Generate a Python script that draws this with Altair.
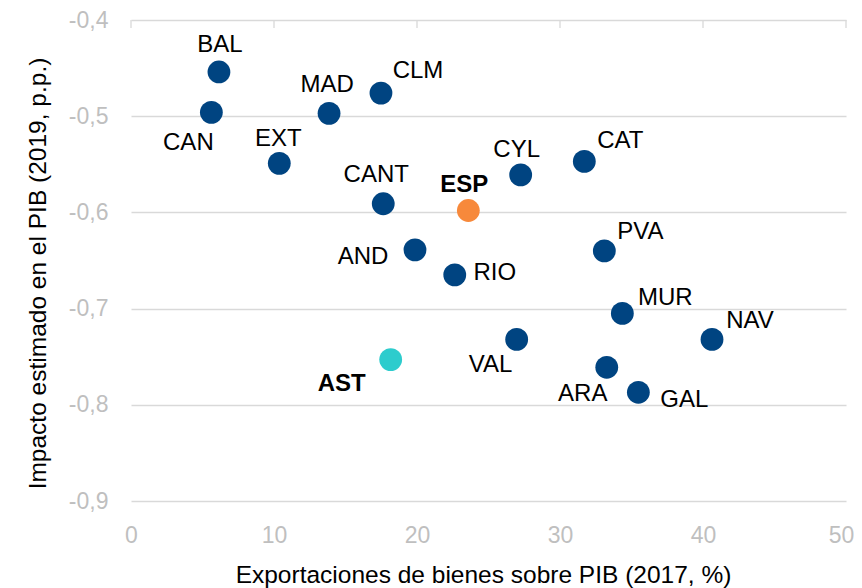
import altair as alt
import pandas as pd

# ---- data ----
regions = ["BAL", "CAN", "MAD", "CLM", "EXT", "CANT", "ESP", "CYL", "CAT",
           "AND", "RIO", "PVA", "MUR", "NAV", "VAL", "AST", "ARA", "GAL"]
exports = [6.15, 5.62, 13.85, 17.48, 10.37, 17.64, 23.59, 27.25, 31.70,
           19.86, 22.64, 33.10, 34.36, 40.63, 26.97, 18.16, 33.27, 35.48]
impact = [-0.454, -0.496, -0.497, -0.476, -0.549, -0.591, -0.598, -0.561, -0.547,
          -0.639, -0.665, -0.640, -0.705, -0.732, -0.732, -0.753, -0.761, -0.787]
groups = ["CCAA", "CCAA", "CCAA", "CCAA", "CCAA", "CCAA", "España", "CCAA", "CCAA",
          "CCAA", "CCAA", "CCAA", "CCAA", "CCAA", "CCAA", "Asturias", "CCAA", "CCAA"]
x_ticks = [0, 10, 20, 30, 40, 50]
y_ticks = [-0.4, -0.5, -0.6, -0.7, -0.8, -0.9]

df = pd.DataFrame({"region": regions, "exports": exports, "impact": impact, "group": groups})
ticks_df = pd.DataFrame({"t": x_ticks})

# label placement (pixel offsets from each point), styling only
label_offsets = {
    "BAL": (1, -27), "CAN": (-23, 31), "MAD": (-2, -28), "CLM": (37, -22),
    "EXT": (-1, -24), "CANT": (-7, -29), "ESP": (-4, -25), "CYL": (-4, -25),
    "CAT": (36, -20), "AND": (-52, 7), "RIO": (40, -2), "PVA": (36, -19),
    "MUR": (43, -15), "NAV": (38, -18), "VAL": (-26, 26), "AST": (-49, 24),
    "ARA": (-24, 27), "GAL": (46, 8),
}
bold_labels = {"ESP", "AST"}

FONT = "Liberation Sans"
GRID = "#D9D9D9"
TICKLAB = "#BFBFBF"

xscale = alt.Scale(domain=[0, 50], nice=False, zero=False)
yscale = alt.Scale(domain=[-0.9, -0.4], nice=False, zero=False)

x_enc = alt.X("exports:Q", scale=xscale, axis=alt.Axis(
    values=x_ticks, grid=False, domain=False, ticks=False,
    labelFont=FONT, labelFontSize=23, labelColor=TICKLAB,
    labelBaseline="middle", labelPadding=34, labelFlush=False, labelOverlap=False,
    labelOffset={"condition": {"test": "datum.value == 50", "value": -5}, "value": 0},
    title="Exportaciones de bienes sobre PIB (2017, %)",
    titleFont=FONT, titleFontSize=24.5, titleFontWeight="normal", titleColor="#000000",
    titleBaseline="middle", titleX=352, titleY=74))
y_enc = alt.Y("impact:Q", scale=yscale, axis=alt.Axis(
    values=y_ticks, grid=True, gridColor=GRID, gridWidth=1.3,
    domain=False, ticks=False, labelFlush=False, labelOverlap=False,
    labelFont=FONT, labelFontSize=23, labelColor=TICKLAB, labelPadding=23,
    labelExpr="replace(replace(format(datum.value, '.1f'), '.', ','), '\u2212', '-')",
    title="Impacto estimado en el PIB (2019, p.p.)",
    titleFont=FONT, titleFontSize=24.5, titleFontWeight="normal", titleColor="#000000",
    titleAngle=-90, titleAlign="center", titleBaseline="middle",
    titleX=-93, titleY=253))

base = alt.Chart(df)

points = base.mark_circle(size=520, opacity=1).encode(
    x=x_enc, y=y_enc,
    color=alt.Color("group:N", legend=None, scale=alt.Scale(
        domain=["CCAA", "España", "Asturias"],
        range=["#004481", "#F7893B", "#2DCCCD"])),
)

top_ticks = alt.Chart(ticks_df).mark_rule(color=GRID, strokeWidth=1.3).encode(
    x=alt.X("t:Q", scale=xscale), y=alt.value(0), y2=alt.value(8))

layers = [top_ticks, points]
for r in regions:
    dx, dy = label_offsets[r]
    layers.append(
        base.transform_filter(alt.datum.region == r).mark_text(
            dx=dx, dy=dy, align="center", baseline="middle",
            font=FONT, fontSize=24,
            fontWeight="bold" if r in bold_labels else "normal",
            color="#000000",
        ).encode(x=alt.X("exports:Q", scale=xscale), y=alt.Y("impact:Q", scale=yscale), text="region:N")
    )

chart = alt.layer(*layers).properties(
    width=715, height=481,
    background="white",
    autosize=alt.AutoSizeParams(type="none"),
    padding={"left": 123, "top": 12, "right": 8, "bottom": 88},
).configure_view(stroke=None, strokeWidth=0)

chart.save("out.html", embed_options={"renderer": "svg", "actions": False})
